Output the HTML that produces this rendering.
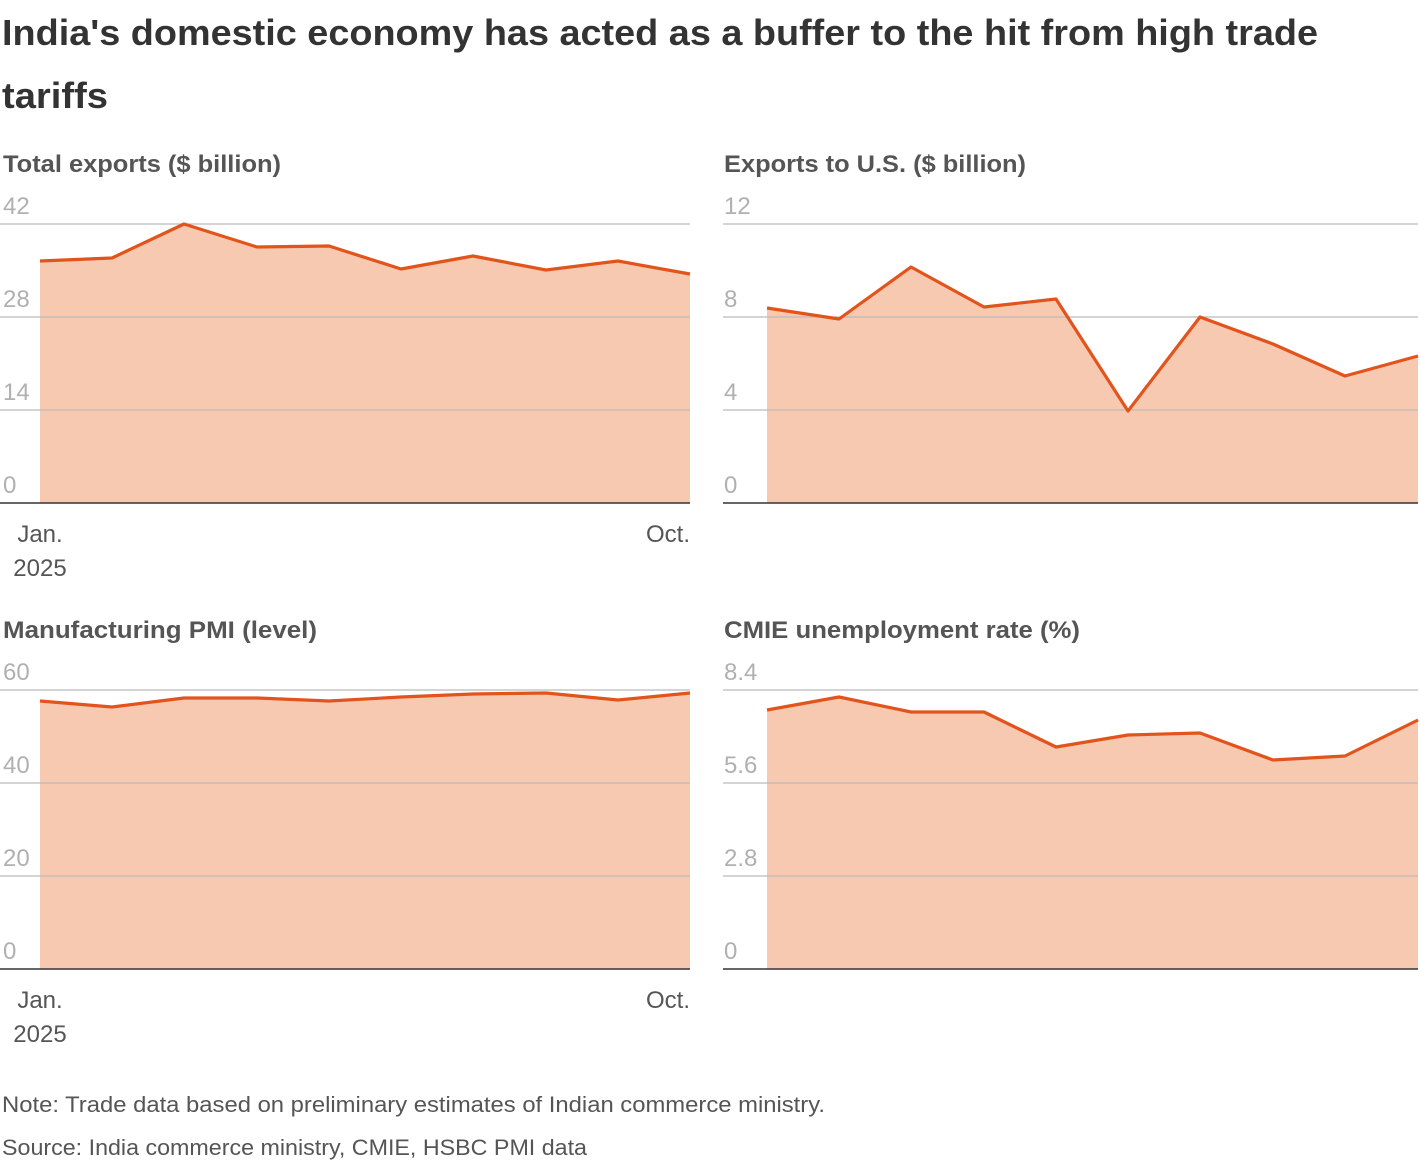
<!DOCTYPE html>
<html><head><meta charset="utf-8"><style>
body{margin:0;background:#fff;}
svg text{font-family:"Liberation Sans",sans-serif;}
</style></head><body>
<svg width="1420" height="1162" viewBox="0 0 1420 1162" xmlns="http://www.w3.org/2000/svg">
<text x="2" y="45" font-size="36" font-weight="bold" fill="#333" textLength="1316" lengthAdjust="spacingAndGlyphs">India's domestic economy has acted as a buffer to the hit from high trade</text>
<text x="2" y="108" font-size="36" font-weight="bold" fill="#333" textLength="106" lengthAdjust="spacingAndGlyphs">tariffs</text>

<g font-size="24" font-weight="bold" fill="#555">
<text x="3" y="172" textLength="278" lengthAdjust="spacingAndGlyphs">Total exports ($ billion)</text>
<text x="724" y="172" textLength="302" lengthAdjust="spacingAndGlyphs">Exports to U.S. ($ billion)</text>
<text x="3" y="638" textLength="314" lengthAdjust="spacingAndGlyphs">Manufacturing PMI (level)</text>
<text x="724" y="638" textLength="356" lengthAdjust="spacingAndGlyphs">CMIE unemployment rate (%)</text>
</g>

<g fill="#f7c9b1">
<polygon points="40,261 112,258 184,224 257,247 329,246 401,269 473,256 546,270 618,261 690,274 690,503 40,503"/>
<polygon points="767,308 839,319 911,267 984,307 1056,299 1128,411 1200,317 1273,344 1345,376 1418,356 1418,503 767,503"/>
<polygon points="40,701 112,707 184,698 257,698 329,701 401,697 473,694 546,693 618,700 690,693 690,969 40,969"/>
<polygon points="767,710 839,697 911,712 984,712 1056,747 1128,735 1200,733 1273,760 1345,756 1418,720 1418,969 767,969"/>
</g>

<g stroke="#bbb" stroke-width="1.2">
<line x1="0" y1="224" x2="690" y2="224"/><line x1="0" y1="317" x2="690" y2="317"/><line x1="0" y1="410" x2="690" y2="410"/>
<line x1="723" y1="224" x2="1418" y2="224"/><line x1="723" y1="317" x2="1418" y2="317"/><line x1="723" y1="410" x2="1418" y2="410"/>
<line x1="0" y1="690" x2="690" y2="690"/><line x1="0" y1="783" x2="690" y2="783"/><line x1="0" y1="876" x2="690" y2="876"/>
<line x1="723" y1="690" x2="1418" y2="690"/><line x1="723" y1="783" x2="1418" y2="783"/><line x1="723" y1="876" x2="1418" y2="876"/>
</g>
<g stroke="#333" stroke-width="1.5">
<line x1="0" y1="503" x2="690" y2="503"/><line x1="723" y1="503" x2="1418" y2="503"/>
<line x1="0" y1="969" x2="690" y2="969"/><line x1="723" y1="969" x2="1418" y2="969"/>
</g>

<g fill="none" stroke="#e2541b" stroke-width="3.2" stroke-linejoin="round">
<polyline points="40,261 112,258 184,224 257,247 329,246 401,269 473,256 546,270 618,261 690,274"/>
<polyline points="767,308 839,319 911,267 984,307 1056,299 1128,411 1200,317 1273,344 1345,376 1418,356"/>
<polyline points="40,701 112,707 184,698 257,698 329,701 401,697 473,694 546,693 618,700 690,693"/>
<polyline points="767,710 839,697 911,712 984,712 1056,747 1128,735 1200,733 1273,760 1345,756 1418,720"/>
</g>

<g font-size="24" fill="#b0b0b0">
<text x="3" y="214">42</text><text x="3" y="307">28</text><text x="3" y="400">14</text><text x="3" y="493">0</text>
<text x="724" y="214">12</text><text x="724" y="307">8</text><text x="724" y="400">4</text><text x="724" y="493">0</text>
<text x="3" y="680">60</text><text x="3" y="773">40</text><text x="3" y="866">20</text><text x="3" y="959">0</text>
<text x="724" y="680">8.4</text><text x="724" y="773">5.6</text><text x="724" y="866">2.8</text><text x="724" y="959">0</text>
</g>

<g font-size="24" fill="#555">
<text x="40" y="542" text-anchor="middle">Jan.</text><text x="40" y="576" text-anchor="middle">2025</text>
<text x="690" y="542" text-anchor="end">Oct.</text>
<text x="40" y="1008" text-anchor="middle">Jan.</text><text x="40" y="1042" text-anchor="middle">2025</text>
<text x="690" y="1008" text-anchor="end">Oct.</text>
</g>

<g font-size="22" fill="#555">
<text x="2" y="1112" textLength="823" lengthAdjust="spacingAndGlyphs">Note: Trade data based on preliminary estimates of Indian commerce ministry.</text>
<text x="2" y="1155" textLength="585" lengthAdjust="spacingAndGlyphs">Source: India commerce ministry, CMIE, HSBC PMI data</text>
</g>
</svg>
</body></html>
